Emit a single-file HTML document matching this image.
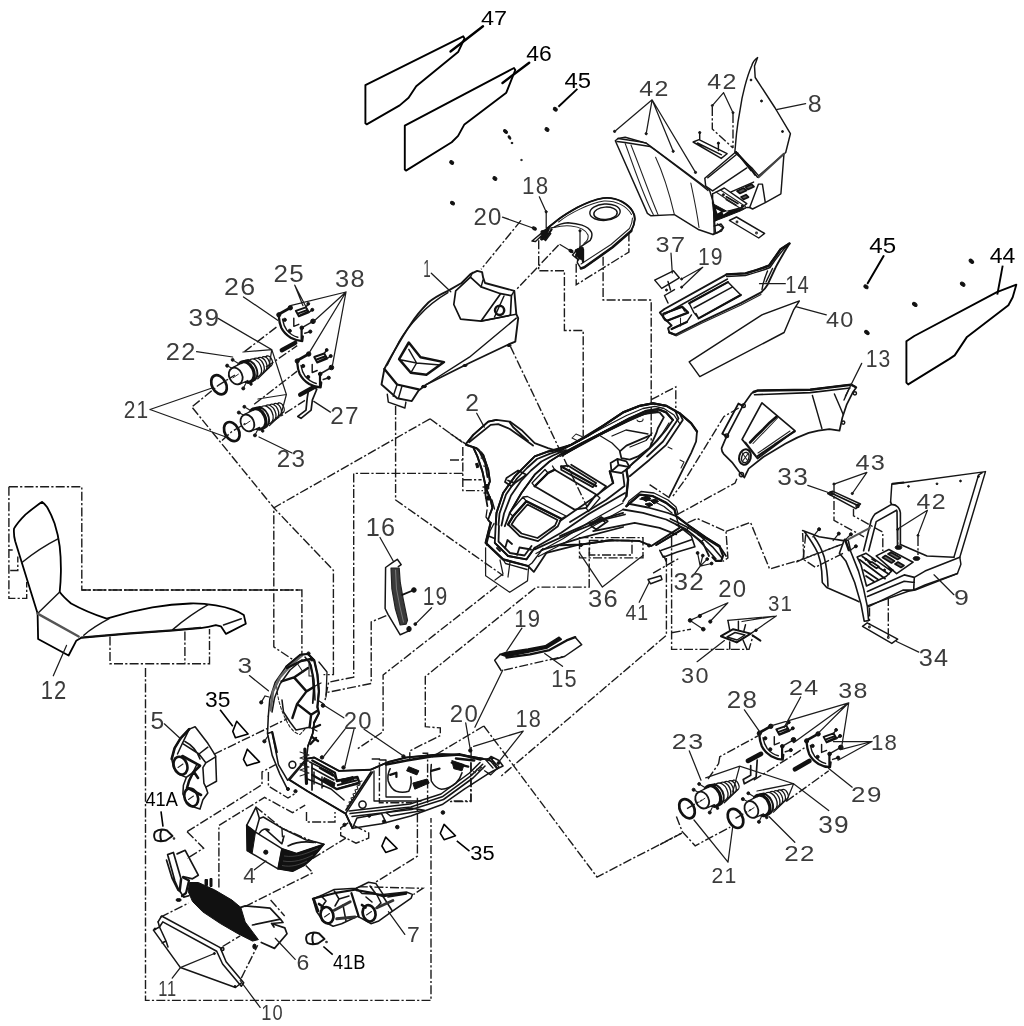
<!DOCTYPE html>
<html><head><meta charset="utf-8"><title>Body parts exploded view</title>
<style>
html,body{margin:0;padding:0;background:#fff;}
body{width:1024px;height:1026px;overflow:hidden;font-family:"Liberation Sans",sans-serif;}
svg{display:block;will-change:transform;transform:translateZ(0)}
.o{fill:none;stroke:#151515;stroke-width:1.45;stroke-linejoin:round;stroke-linecap:round}
.w{fill:#fff;stroke:#151515;stroke-width:1.45;stroke-linejoin:round;stroke-linecap:round}
.n{fill:none;stroke:#222;stroke-width:1.05;stroke-linejoin:round;stroke-linecap:round}
.k{fill:none;stroke:#111;stroke-width:2.3;stroke-linejoin:round;stroke-linecap:round}
.k3{fill:none;stroke:#111;stroke-width:3;stroke-linejoin:round;stroke-linecap:round}
.b{fill:#111;stroke:#111;stroke-width:1;stroke-linejoin:round}
.g{fill:#777;stroke:none}
.d{fill:none;stroke:#1c1c1c;stroke-width:1.4;stroke-dasharray:9 2.2 2.2 2.2}
.l{fill:none;stroke:#1c1c1c;stroke-width:1.25;stroke-linecap:round}
.lk{fill:none;stroke:#000;stroke-width:2.4;stroke-linecap:round}
.p{fill:none;stroke:#000;stroke-width:1.9;stroke-linejoin:round}
text{font-family:"Liberation Sans",sans-serif}
.c{font-size:22.5px;fill:#3c3c3c;letter-spacing:1.2px}
.a{font-size:21px;fill:#000}
.a2{font-size:19px;fill:#000}
</style></head><body>
<svg width="1024" height="1026" viewBox="0 0 1024 1026">
<rect width="1024" height="1026" fill="#fff"/>
<!-- 10_dash_seat.svgfrag -->
<path class="d" d="M8.900 486.700 L81.800 486.700 L81.800 590 L300 590 M8.900 486.700 L8.900 598.400 L26.700 598.400 L26.700 582 M8.900 550 L12.700 550 M10.200 570.500 L17.800 570.500 L17.800 556.500"/>
<path class="d" d="M110 636.500 L110 663.700 L209.500 663.700 L209.500 629 M184.900 631.400 L184.900 663.700 M145.500 668 L145.500 1000.400 L431 1000.400 L431 818"/>
<!-- 11_dash_main.svgfrag -->
<g class="d">
<!-- console / hood -->
<path d="M538.700 240.300 L538.700 270.800 L564.400 270.800 L564.400 330.500 L583.200 330.500 L583.200 436"/>
<path d="M603.100 256.700 L603.100 300 L651.200 300 L651.200 445 M651.200 399.700 L675.800 386.800 L675.800 408"/>
<path d="M576.200 263.700 L576.200 284.800 L628.900 252 L628.900 231"/>
<path d="M521 220.400 L481.100 269.300 M558.600 245 L538.700 266 L516.400 289.500"/>
<path d="M510.400 346.400 L559.200 448.700 L587.100 507"/>
<path d="M395.600 406 L395.600 500 L503.300 575.700 M430 418.800 L464.400 443.800"/>
<!-- upper-left lights to front arch -->
<path d="M192.500 407.800 L273.800 507.800 L333.400 570.300 L333.400 674.600 L323.500 674.600 M430 418.800 L273.800 507.800 L273.800 646.900 L292.500 659.400"/>
<path d="M81.800 590 L301.900 590 L301.900 656.300"/>
<path d="M462.800 473.400 L353.700 473.400 L353.700 677.100 L328.600 682.200 L324.800 701.300 M462.800 446.900 L462.800 490.600 L483 490.600 M462.800 479.700 L481.600 479.700 M450 433.500 L465.200 443.600 M450 460 L462.800 460"/>
<path d="M386.300 615.600 L371.200 621.900 L371.200 683.500 L327.300 692.400"/>
<path d="M497 585.800 L383.100 675 L383.100 731.700 L356.500 749.500 M589.200 547.800 L589.200 587.100 L536.300 587.100 L425.300 676.600 L425.300 726.700 L440.300 727.900 L440.300 735.500 L409.800 750.800 L409.800 759.700"/>

<path d="M579.500 537.600 L643 537.600 L643 557.900 L579.500 557.900 Z M589.500 540.500 L632 540.500 L632 555 L589.500 555 Z"/>
<!-- right of body -->
<path d="M738.700 408 L724 416.500 L686.200 478 L672.900 496.200 M649.600 484.600 L669.600 497.900 M676.500 515 L735.100 483 L737.500 477.100"/>
<path d="M726 531.400 L750.500 522.400 L769.600 569 L803.300 559"/>
<path d="M687.500 522.900 L697.100 518.500 L726 531.400 L727.900 558 L722.600 561.500"/>
<path d="M666.400 558 L666.400 635.300 L500.300 776.800 M671.600 537 L671.600 649.400 L749 649.400 L753 636 M671.600 632.700 L691 629.200 M653.100 573.100 L679.800 557.900"/>
<path d="M803.100 559.100 L806 532 M803.100 559.100 L840 545"/>
<!-- part 15 / lower -->
<path d="M504.100 670.100 L565.100 656.200 M483.800 726 L597 877 L682 833 M483.800 726 L430.500 757.800 M471.100 747 L471.100 801 L450.800 801"/>

<!-- around front arch/lower -->

<path d="M371.700 759 L379.400 759 L379.400 802.800 L412.400 802.800 M422.500 753.300 L427.600 753.300 L427.600 802.800 M470.800 762.200 L470.800 801.600 L447.900 801.600"/>
<path d="M417.400 797.800 L417.400 856.200 L375.900 882"/>
<path d="M213.800 754.300 L287.400 718.700 M187.100 831.700 L262 784.700 L262 772 L276 764.400 M187.100 831.700 L203.600 848.200 L187.100 858.400"/>
<path d="M218.900 887.600 L218.900 825.400 L264.600 797.400 L292.500 812.700 L305.200 805.100 M268.400 772 L268.400 786 L288 798 L296 793"/>
<path d="M244.800 906.600 L312.800 872.700 L305.800 865.600 M312.800 858.400 L345.800 838.100 M270.600 900 L284.700 916 M160.500 917.200 L188.600 903.100 M222.600 946.500 L240.200 935.900 M241.300 978.100 L257.700 945.300"/>
<path d="M340.700 827.900 L348.400 822.800 L368.700 833 L368.700 838.100 L356 843.200 L340.700 835.500 Z M306.500 812 L306.500 822 L335 822 L335 812"/>
<path d="M358.800 886.700 L422.800 888.300 L413.400 894.500"/>
</g>
<!-- 20_panels.svgfrag -->
<!-- panel 47 -->
<path class="p" d="M365.4 85.1 L463.2 36.3 L464.5 38.5 L458.1 52.1 L416.2 86.3 L408.6 97.8 L399.7 105.4 L366.7 124.4 L365.4 123.2 Z"/>
<path class="lk" d="M483 26.2 L450.5 51.5"/>
<!-- panel 46 -->
<path class="p" d="M404.8 125.7 L514 68 L515.3 70 L506.3 92.7 L464.4 124.4 L458.1 135.9 L451.7 142.2 L406 170.6 L404.8 169.6 Z"/>
<path class="lk" d="M529.2 62.7 L502.5 83"/>
<!-- 45 leader + screws -->
<path class="p" d="M577.4 88.9 L558.4 106.7"/>
<g class="b"><ellipse cx="555.3" cy="109.2" rx="2.2" ry="1.6" transform="rotate(35 555.3 109.2)"/>
<ellipse cx="547" cy="129.5" rx="2.2" ry="1.6" transform="rotate(35 547 129.5)"/>
<ellipse cx="451.7" cy="162.5" rx="2.2" ry="1.6" transform="rotate(35 451.7 162.5)"/>
<ellipse cx="494.9" cy="178.5" rx="2.2" ry="1.6" transform="rotate(35 494.9 178.5)"/>
<ellipse cx="452.5" cy="203.1" rx="2.2" ry="1.6" transform="rotate(35 452.5 203.1)"/>
<ellipse cx="505.5" cy="131.5" rx="2.4" ry="1.3" transform="rotate(40 505.5 131.5)"/>
<ellipse cx="509.5" cy="137.5" rx="1.8" ry="1" transform="rotate(55 509.5 137.5)"/>
<ellipse cx="512" cy="143" rx="1" ry=".7"/><ellipse cx="521.5" cy="160" rx=".9" ry=".6"/>
</g>
<!-- panel 44 -->
<path class="p" d="M906.4 341.3 L914.3 336 L996.9 292.1 L1016.3 284.7 L1012.7 297.3 L1008.4 305.3 L967 336.9 L954.7 355.4 L949.5 358.9 L908.2 384.4 L906.4 382.6 Z"/>
<path class="lk" style="stroke-width:2" d="M883.6 256 L867.7 283.3"/>
<path class="p" d="M1002.7 265.7 L997.3 294.7"/>
<g class="b"><ellipse cx="866" cy="286.8" rx="2.4" ry="1.6" transform="rotate(35 866 286.8)"/>
<ellipse cx="971.4" cy="261.3" rx="2.6" ry="1.6" transform="rotate(40 971.4 261.3)"/>
<ellipse cx="962.7" cy="284.2" rx="2.6" ry="1.6" transform="rotate(40 962.7 284.2)"/>
<ellipse cx="914.8" cy="304.4" rx="2.6" ry="1.6" transform="rotate(40 914.8 304.4)"/>
<ellipse cx="866.9" cy="332.5" rx="2.6" ry="1.6" transform="rotate(40 866.9 332.5)"/></g>
<!-- part 40 strip -->
<path class="o" d="M689.2 361.8 L761.9 314.9 L799.4 300.9 L793.5 310.2 L784.1 332.5 L699.8 376.6 Z"/>
<!-- 21_part8.svgfrag -->
<!-- part 8 left fender -->
<path class="o" d="M615.3 140.8 L618 138.5 L625.2 137.3 L646.2 143.1 L709.5 190 L713.5 203 L714.2 233.5 L713 234.5 L699 229.8 L674.4 214.6 L651 215.8 L647.4 213.4 Z"/>
<path class="o" d="M646.2 143.1 L640 141.8 L618 138.5 M617 141.5 L625 142.5 L650 146.5 L655 150 L700 184 L708 190.5"/>
<path class="n" d="M625.2 143.5 C635 170 643 195 653.3 214.6 M631 145 C641 170 650 196 658 214.6 M655.6 157.2 C664 175 670 196 674.4 214.6 M690.8 183 C694 198 697 212 699 227.5"/>
<path class="o" d="M713 234.5 L718 232.5 L723.6 227.5 L721 224 L714.2 226"/>
<!-- tall flap -->
<path class="o" d="M757.6 57.6 C754 60 752.5 63 751.7 65.8 C748.5 73 746.5 80 744.7 86.9 C742.5 95 741 103 740 110.3 C738.5 118 737.3 126 736.5 133.7 L734.8 152.5 L751.7 167.7 L758.7 175.9 L785.7 152.5 L790.4 133.7 L775.1 108 L755.2 77.5 L754.5 66 Z"/>
<g class="b"><circle cx="751" cy="80" r=".9"/><circle cx="761.5" cy="101" r="1"/><circle cx="782.5" cy="131.5" r="1"/></g>
<!-- box below flap -->
<path class="o" d="M783.900 154.800 L780.900 193.800 L765.300 202.600 L752.600 209 L749.700 207.500 L758.500 184.100 L762.400 184.100 L765.300 202.600"/>
<path class="k" style="stroke:#444;stroke-width:2.200" d="M758.500 177.200 L783.900 153.800"/>
<!-- middle footwell -->
<path class="o" d="M736 151.800 L704.800 178.200 L705.700 186 L712.600 190.900 L746.800 167.900 M707.800 177.700 L738 153.200 M736 151.800 L747.700 164.500 L757.500 177.200 M731.100 191.900 L753.600 182.100 M712.600 193.800 L724.300 188 L746.800 203.600 L741.900 207.500 L727.200 211.400 L714.500 221.200 M712.600 193.800 L712.600 203.600 M746.800 207.500 L749.700 207.500"/>
<path class="k" style="stroke-width:1.700" d="M736 151.800 L747.700 164.500 L755 175 M741 158 L751 170.500"/>
<path class="b" d="M712.600 203.600 L727.200 211.400 L746.800 207.500 L741.500 210.500 L714.500 221.200 Z"/>
<path d="M716 209 l5 2.500 l-3.500 2 z M722.500 212.500 l6 -1.500 l-5 3.500 z" fill="#fff"/>
<g class="k" style="stroke-width:1.700"><path d="M726.300 196.800 L737.900 203.600 M726.300 199.500 L736 205.300"/><path d="M737 191 l6.500 -3 l3 2.500 l-6.500 3 z M745.500 187 l6 -2.800 l2.500 2.500 l-6 2.800 z M741 197 l5 -2.300 l2.500 2.500 l-5 2.300 z" style="fill:#555"/></g>
<circle class="b" cx="723.300" cy="194.800" r="1.100"/><circle class="b" cx="742.400" cy="206" r="1.100"/>
<path class="n" d="M716 192 L742 209.500 M720.500 190 L745.500 206.500"/>
<path class="o" d="M714.500 221.200 L715.500 233 L721.500 231 L723.300 228 L717.500 224"/>
<!-- plate lower right -->
<path class="o" d="M729.4 220.5 L736.5 217 L764.6 233.4 L758.7 238 Z"/>
<circle class="n" cx="737" cy="222" r=".9"/><circle class="n" cx="756.5" cy="233" r=".9"/>
<!-- bracket top -->
<path class="o" d="M693.1 142 L699 139.6 L727.1 153.7 L721.2 158.4 Z M697.5 143 L721.5 154.8 M699.7 139.6 L699.7 132.6 M718.4 150.5 L718.4 143.2"/>
<g class="b"><circle cx="699.7" cy="132.6" r="1.1"/><circle cx="718.4" cy="143.2" r="1.1"/>
<circle cx="614.6" cy="131.4" r="1.1"/><circle cx="646.2" cy="133.7" r="1.1"/><circle cx="673.2" cy="151.3" r="1.1"/><circle cx="695.5" cy="172.4" r="1.1"/>
<circle cx="712.3" cy="105.6" r="1"/><circle cx="733" cy="112.7" r="1"/></g>
<!-- leaders -->
<path class="l" d="M652.1 99.8 L614.6 131.4 M652.1 99.8 L646.2 133.7 M652.1 99.8 L673.2 151.3 M652.1 99.8 L695.5 172.4 M723.6 92.7 L712.3 105.6 M723.6 92.7 L733 112.7 M805.6 103.7 L776.3 109.6"/>
<path class="d" d="M712.3 107 L712.3 129 L733 148 M733 114 L733 148"/>
<!-- 22_console.svgfrag -->
<!-- console (cup holder) -->
<path class="o" d="M546.9 228.6 L558.6 219.2 C565 214.5 571 211 577.3 207.5 C586 203 595 199.5 603.1 198.1 C610 197.3 617 199 621.9 201.6 C627 204.5 630.5 207.5 632.4 211 C634.3 214 635 216.5 634.8 219.2 C634.5 223.5 633 227.5 631.2 230.9 L612.5 247.3 L584.4 267.3 L580.9 268.4 L577.3 262.6 L579.7 247.3 L590.2 240.3 C592 237.5 592.3 234.5 591.4 232.1 C589.5 228.5 586 226.5 582 225.1 C577 223.5 572 223 568 222.7 C562.5 223 558 224.5 553.9 227.4 Z"/>
<path class="n" d="M558.6 222 C570 213 590 203 604 201 C616 200.5 627 206 631.5 214.5 M581 264 L611 244.5 L629.5 228.5 C631.5 224.5 632.5 221 632.4 218 M553.9 227.4 C560 226 566 225.5 571 226 C580 227 586 230 588 235 C588.6 238 587.5 241 584 243.5"/>
<ellipse class="o" cx="605" cy="212.2" rx="15.2" ry="8.2" transform="rotate(-4 605 212.2)"/>
<ellipse class="o" cx="605.5" cy="213.3" rx="11.7" ry="6.2" transform="rotate(-4 605.5 213.3)"/>
<!-- brackets under console -->
<path class="k" d="M548.5 229 L543.5 236 M551.5 229.5 L546 238 M580 248 L576 257 M583 249.5 L583 262"/>
<path class="o" d="M546.9 228.6 L532 241 L535.5 241.5 L541 236.2 L545.5 240.5 L550.7 233.5 M572.5 255 L577.5 249 L583 252 L578.5 260 Z"/>
<circle class="n" cx="541.8" cy="238.5" r="1.5"/><circle class="n" cx="577" cy="255" r="1.5"/>
<path class="l" d="M546.2 212 L546.2 228 M580 231 L580 247"/>
<g class="b"><circle cx="546.2" cy="211.8" r="1.1"/><circle cx="580" cy="230.8" r="1.1"/><ellipse cx="534.3" cy="228.5" rx="2.2" ry="1.4" transform="rotate(25 534.3 228.5)"/><ellipse cx="571" cy="251" rx="2.2" ry="1.4" transform="rotate(25 571 251)"/></g>
<path class="l" d="M539.3 196.8 L546.2 212 M502.5 217.1 L534.3 228.5 M560 244.5 L570 250.5"/>

<path class="k" style="stroke-width:2.6" d="M580.9 268.4 L584.4 267.3 L612.5 247.3 L631.2 230.9"/>
<path class="k" style="stroke-width:1.9" d="M546.9 228.6 L558.6 219.2 C565 214.5 571 211 577.3 207.5 C586 203 595 199.500 603.100 198.100 C610 197.300 617 199 621.900 201.600 C627 204.500 630.500 207.500 632.400 211 C634.300 214 635 216.500 634.800 219.200 C634.500 223.500 633 227.500 631.200 230.900"/>
<path class="b" d="M541 231 L549 229 L546 238 L541.500 240 Z M575 250 L583 247 L583.500 261 L578.500 258 Z"/>
<!-- 23_part14.svgfrag -->
<!-- part 37 -->
<path class="o" d="M654.7 280.1 L673.4 270.8 L679.3 277.8 L661.7 288.4 Z M664.5 295.5 L674.5 289.6 M664.5 295.5 L668 303 M668 281.5 L670.5 290"/>
<g class="b"><circle cx="681.6" cy="279" r="1"/><circle cx="681.6" cy="287.2" r="1"/><circle cx="666.5" cy="290" r="1"/></g>
<path class="l" d="M671 253.2 L672.3 273 M702.7 267.3 L681.6 279 M702.7 267.3 L681.6 287.2"/>
<!-- part 14 -->
<path class="o" style="stroke-width:1.9" d="M659.9 312.6 L664.5 309 L726.7 274.4 L745.5 273.4 C755 270.5 762 268.5 768.9 265.7 C773 260 777 254.5 780.6 249.3 L789.5 243.4 C785 251 780 259 775.9 266.9 L767.7 284.4 C765.5 288 763.5 290.5 760.7 292.7 L740.8 303.2 L700.9 321.9 L675.2 334.8 L669.3 332.5 L668.1 328.3 L671.6 325.5 L663.4 317.3 Z"/>
<path class="o" d="M726.7 276.5 L745.5 275.5 C756 272.5 763 270.5 770 267.5 C775 260 781 252 787.5 245 M665 314 L727.5 279 M767.5 271 C765 277 763 283 762 289.5 M772.5 268.5 L766 282"/>
<path class="o" d="M689.2 303.2 L727.9 282.1 L740.8 295 L698.6 318.4 L693.9 312.6 Z M693.9 308 L732.6 286.8 M698.6 318.4 L696 313.5"/>
<path class="o" d="M663.4 313.8 L682.2 306.7 L688.1 312.6 L667 320.8 M671.6 329 L686.9 321.9 L691.5 314.9 M682.2 306.7 L684.5 311"/>
<path class="n" d="M676 336 L701 323.5 L741 305 L761 294.5 M680.5 318 L680.5 326"/>
<path class="l" d="M785.3 283.7 L759.5 283.7 M826.3 314.9 L795.8 306.7"/>

<path class="k" style="stroke-width:2.4" d="M726.700 274.400 L745.500 273.400 C755 270.500 762 268.500 768.900 265.700 C773 260 777 254.500 780.600 249.300 L789.500 243.400"/>
<path class="k" style="stroke-width:2.2" d="M663.400 313.800 L682.200 306.700 L688.100 312.600 L667 320.800 C664 320 662.500 316.500 663.400 313.800 Z M671.600 329 L686.900 321.900 M669.300 332.500 L675.200 334.800 M689.200 303.200 L727.900 282.100 M698.600 318.400 L740.800 295"/>
<!-- 24_part13.svgfrag -->
<!-- part 13 side panel -->
<path class="o" style="stroke-width:1.700" d="M751.600 393.300 L757.500 390.400 L810.200 389.600 L851.200 384.500 L856.300 387.500 L852.700 392.600 L846.800 404.300 L842.400 417.500 L839.500 430.700 L829.300 429.200 C822 429.800 815 431 808.700 432.900 C800 436 792 440 785.300 443.800 L763.300 457 L748.700 468.700 L744.300 477.500 L739.200 471.700 L732.600 462.900 L723.800 454.100 C722 452 721.500 450 721.600 448.200 L725.300 439.400 L742.800 405.800 Z"/>
<path class="k" style="stroke-width:2.400" d="M753.500 392 L757.500 390.600 L810.200 389.800 L851.200 384.800 L855.500 387"/>
<path class="k" style="stroke-width:1.600" d="M754.500 394.800 L810.200 392.600 L850 388"/>
<path class="o" d="M812.400 395.500 L817.500 413.100 L821.900 428.500 M834.400 394 L839.500 405.800 L843.200 414.500 M849 389 L844 400"/>
<path class="o" style="stroke-width:1.700" d="M761.900 402.800 L794.800 430.700 L757.500 458.500 L742.100 439.400 Z M745.500 442.500 L756 456"/>
<path class="k" style="stroke-width:2.700" d="M776.500 416.700 C771 421 767 425 763.300 429.200 C758 434 754 438 750.200 442.400"/>
<path class="k" style="stroke-width:2" d="M794.800 431.400 C787 436 780 441 773.600 445.300 C768 449 762 453 757.500 456.300"/>
<path class="n" d="M778 417.500 L753 443.500 M790 431 L758 453"/>
<ellipse class="k" cx="745" cy="457" rx="5.800" ry="7.800" transform="rotate(15 745 457)" style="stroke-width:2"/><ellipse class="o" cx="745.300" cy="457.500" rx="3.600" ry="5.200" transform="rotate(15 745.300 457.500)"/>
<path class="n" d="M742 452.500 L748.500 462 M748.500 453 L742 462"/>
<path class="k" style="stroke-width:1.900" d="M742.800 405.800 L738.400 403.600 L722.300 433.600 L726.700 436.500"/>
<circle class="o" cx="743.500" cy="405.800" r="1.800"/><circle class="o" cx="726.700" cy="435.800" r="1.800"/><circle class="o" cx="854.900" cy="393.300" r="1.600"/><circle class="o" cx="843.200" cy="422.600" r="1.600"/><circle class="o" cx="741.400" cy="474.600" r="2.100"/>
<path class="l" d="M861.700 363.400 L845.300 396.200"/>
<!-- part 33 + 43 -->
<path class="o" d="M827.7 493.5 L832.4 491.2 L860.5 504 L855.8 508.700 Z"/>
<path class="k" d="M830 492.500 L858 505.500" style="stroke-width:1.8"/>
<circle class="o" cx="831" cy="493.400" r="1.5"/><circle class="o" cx="857.500" cy="506" r="1.5"/>
<g class="b"><circle cx="834" cy="484.100" r="1.1"/><circle cx="852.300" cy="493.500" r="1.1"/></g>
<path class="l" d="M807.8 485.3 L831.2 493.5 M866.9 472.4 L834 484.1 M866.9 472.4 L852.3 493.5"/>
<path class="d" d="M834 485.300 L834 520.400 L864 536.800 M853.500 508.700 L853.500 515.800 L882.800 532.200 L882.800 551"/>
<!-- 25_part9.svgfrag -->
<!-- part 9 right fender -->
<path class="o" d="M891.8 484.100 L903.500 482.700 L985.500 471.600 L959.800 557.200 L960.900 564.200 L957.400 573.600 L915.200 590 L908.200 591.200 L866 606.400 M891.800 484.100 L890.600 502.100 M978.500 475.200 L953.900 557.200 M983 472.200 L978.500 475.200"/>
<path class="k" d="M892.500 483.800 L903.500 482.500" style="stroke-width:2"/>
<g class="b"><circle cx="908.5" cy="486.300" r=".9"/><circle cx="937" cy="483.800" r=".9"/><circle cx="960.500" cy="481" r=".9"/><circle cx="978.5" cy="476.500" r=".9"/></g>
<!-- box -->
<path class="o" style="stroke-width:1.600" d="M863.600 550.800 L871.200 520.300 C872.500 517.500 873.700 515.500 875 514 L891.500 504.400 C894.500 504.600 896.500 505.500 897.800 507 C899.300 508.700 900.200 510.500 900.400 512.700 L900.400 544.400 M868.700 550.800 L876.200 521.600 L896.600 510.200 M890.600 502.100 L891.500 504.400 M897 511 L897.500 546"/>
<!-- floor/step -->
<path class="o" style="stroke-width:1.600" d="M857.200 557.100 L866.100 553.300 L891.500 571.100 L886.400 576.200 L876.200 581.300 L866.500 586 M876.200 555.900 L888.900 549.500 L913.100 562.200 L896.600 573.600 Z M867.400 591.400 L904.200 574.900 L914.300 577.400 L925 571.100 L959.800 557.200 M867.400 596.500 L904.200 581.200 L914.300 582.500 M868.600 606.600 L902.900 590.100 L913.700 590.100 L925 585.100 L957.400 573.600 M914.300 577.400 L913.700 590.100 M900.400 544.400 L927 556 L953.900 557.200 M857.200 557.100 L861 565 L866.500 586"/>
<g class="k" style="stroke-width:1.700"><path d="M859.700 559.700 L885.100 578.700 M862.300 556.500 L888.900 574.300 M864 570 L878 579.500 M866 576 L874 581.500"/>
<path d="M868 561.500 l8 5.500 M872 559 l3.500 2.400 M882.500 557.500 l9 5.500 l3 -2 l-9 -5.500 z M888 554 l9.500 5.500 l3 -1.800 l-9.500 -5.500 z M895 564 l6 3.500 l3 -2 l-6 -3.500 z M889 568 l4 2.300" style="fill:#666"/>
<path d="M869.500 563.500 l7 4.800 l2.500 -1.500 l-7 -4.800 z" style="fill:#fff"/></g>
<g class="b"><circle cx="866" cy="559.500" r="1"/><circle cx="884.500" cy="570" r="1"/><ellipse cx="898.500" cy="547.500" rx="3.300" ry="1.900"/><ellipse cx="916.500" cy="558.500" rx="3.300" ry="1.900"/></g>
<!-- left curved part + strap -->
<path class="o" style="stroke-width:1.600" d="M802.600 530.500 L819.100 536.800 L843.200 540.600 M804.500 531.700 C810 539 814.500 546 817.900 553.300 C820 559 821.200 565 821.700 571.100 L822.300 582.500 L826.700 587.600 L855.900 600.300 L859 601.700 M814 536.800 C818.500 543 822 550 824.200 557.100 C826.500 566 827.700 576 828 586.300"/>
<path class="w" style="stroke-width:1.600" d="M839.400 553.300 L844.500 539.400 L848.300 540.600 L850.900 552 L858.500 571.100 L863.600 588.900 L867.400 606.600 L868.600 620.600 L864.200 621.200 L861 604.100 L854.700 582.500 L845.800 560.900 Z"/>
<path class="k" style="stroke-width:2.400" d="M845.200 539.800 L848.800 550"/>
<path class="k" style="stroke:#555;stroke-width:2" d="M848.300 539.400 L869.900 527.900"/>
<path class="d" d="M802.600 533 L803.900 559.700 L815.300 567.300 L843.200 553.300 M796.300 562.200 L803.900 558.400 L842 544.400"/>
<path class="l" d="M819.100 529.200 L812.800 536.800 M838.800 533.600 L833.100 540.600 M850.900 534.300 L845.800 539.400 M855.900 546.300 L849.600 550.800"/>
<g class="b"><circle cx="819.100" cy="529.200" r="1.500"/><circle cx="838.800" cy="533.600" r="1.500"/><circle cx="850.900" cy="534.300" r="1.500"/><circle cx="855.900" cy="546.300" r="1.500"/></g>
<!-- part 34 plate -->
<path class="o" d="M862.500 626.300 L867.200 622.800 L897.700 639.200 L891.800 643.400 Z"/>
<circle class="n" cx="869.400" cy="627" r=".9"/><circle class="n" cx="888.300" cy="637.500" r=".9"/>
<path class="d" d="M869.500 607.600 L869.500 625 M888.300 597 L888.300 637"/>
<path class="l" d="M918.800 652.100 L896.500 641.500 M953.900 594.700 L934 574.800 M927.400 510.300 L897.700 529 M927.400 510.300 L918 534.900"/>
<g class="b"><circle cx="897.700" cy="529.500" r="1"/><circle cx="918" cy="535.500" r="1"/></g>
<path class="d" d="M897.700 531 L897.700 545 M918 537 L918 555"/>
<!-- 26_hood.svgfrag -->
<!-- part 1 hood -->
<path class="o" style="stroke-width:1.9" d="M384.400 368.900 C388 362 391.500 356 395.200 349.400 C400 341 405 332.500 410.800 324 C416 316 422 309 428.400 302.500 C434 297.500 441 294 447.900 290.800 L461.600 283 L470.400 274.200 L477.200 270.900 L482.100 272.200 C482.500 276 483.500 279.500 485 283 L514.300 290.800 L516.300 314.200 L518.200 318.100 L515.300 341.600 L508.400 344.500 L469.400 363 L426.400 384.500 L418.600 390.400 L411.800 401.100 L397.100 398.200 L381.500 384.500 Z"/>
<path class="o" d="M387.300 365 C391 357 395 350 399.100 341.600 C404 333 410 325 418.600 316.200 C427 307 437 299 447.900 292.700 M426.400 384.500 L469.400 357.200 L516.300 318.100 M481.100 321.100 L516.300 314.200"/>
<!-- window -->
<path class="k" d="M453.800 304.500 L455.700 290.800 L470.400 277.100 L481.100 286.900 L500.600 293.700 L511.400 295.700 L510.400 315.200 L481.100 321.100 L460.600 319.100 Z M500.600 293.700 L481.100 321.100" style="stroke-width:1.7"/>
<path class="o" d="M470.400 277.100 L472.500 272.500 M481.100 286.900 L483 280 M504 296 L494.500 317 M511.400 295.700 L514.300 290.800"/>
<circle class="k" cx="499.600" cy="310.300" r="4.600" style="stroke-width:2.5"/>
<!-- scoop -->
<path class="k" d="M399.100 359.100 L408.800 342.500 L420.500 357.200 L444 362.100 L426.400 374.800 L410.800 372.800 Z" style="stroke-width:2.5"/>
<path class="o" d="M408.800 349.400 L416.600 363 L440 365 M416.600 363 L410.800 372.800 M401.500 360 L416.600 363"/>
<!-- front edge -->
<path class="k" d="M384.400 368.900 L397.100 384.500 L418.600 389.400" style="stroke-width:2.3"/>
<path class="o" d="M397.100 384.500 L393.200 396.200 M402 386 L398.500 398 M387.300 394.300 L388.300 402.100 L404.900 408 L405.900 402.100"/>
<path class="l" d="M431.300 273.200 L450.800 291.800"/>
<ellipse class="b" cx="509" cy="345.500" rx="2" ry="1"/><ellipse class="b" cx="465" cy="365.500" rx="2" ry="1"/><ellipse class="b" cx="424" cy="386.500" rx="2.500" ry="1.200"/>
<!-- 27_seat.svgfrag -->
<!-- part 12 seat -->
<path class="p" style="stroke-width:1.800" d="M41.900 501.900 C44 503 45.500 505 47 507 C50 512 52.500 517.500 54.600 523.500 C57 531 58.700 538.500 59.700 546.300 C60.700 555 61 563 60.900 571.700 C60.800 579 60.300 586 59.700 592 C63 596.500 67 600 71.100 603.500 C82 609.500 94 614.500 106.700 618.700 C121 614 136.500 610 152.400 607.300 C165 605.300 178 604 190.500 603.500 C199 603.300 207.500 604 215.800 605.300 C222 606.300 228 607.800 233.600 609.800 C237.500 611.200 241 613 243.800 614.900 L245.800 623.800 L226 633.900 L220.900 626.300 L215.800 625.100 C211 626.500 206 627.500 200.600 628.100 L172.700 630.600 L127 633.900 L81.300 637.800 L76.200 640.800 L68.600 655.500 L38.100 639 L37.600 613.600 L15.200 541.300 C14 537 13.700 532.500 14 528.600 C17 523.500 21 519 25.400 514.600 C31 510 36.500 505.500 41.900 501.900 Z"/>
<path class="o" d="M21.600 562.800 C33 553.500 46 545 58.400 538.700 M37.600 613.600 L59.700 592 M83.800 635.200 C91 629 100 623.500 109.200 618.700 M172.700 629.600 C184 620 196 611.500 208.200 604.700 M223.500 625 L241.300 618.700"/>
<path class="k" style="stroke:#555;stroke-width:2.400" d="M37.600 613.600 L78.700 636.500"/>
<path class="k" style="stroke-width:1.800" d="M81.300 637.300 L127 633.400 L172.700 630.100 L200.600 627.600"/>
<path class="l" d="M53.300 675.800 L66.500 645.400"/>
<!-- 28_lights.svgfrag -->
<defs>
<g id="hl"><g transform="scale(.9)">
  <path class="o" d="M17 -16.500 L35 -22 M24.500 3 L39.500 -11.500"/>
  <ellipse class="w" cx="37" cy="-16.800" rx="3.400" ry="5.800" transform="rotate(-25 37 -16.800)"/>
  <ellipse class="w" cx="33" cy="-15" rx="4.300" ry="7" transform="rotate(-25 33 -15)"/>
  <ellipse class="w" cx="29" cy="-13" rx="5.200" ry="8.200" transform="rotate(-25 29 -13)"/>
  <ellipse class="w" cx="25" cy="-11" rx="6.100" ry="9.400" transform="rotate(-25 25 -11)"/>
  <ellipse class="w" cx="21" cy="-9" rx="7" ry="10.500" transform="rotate(-25 21 -9)"/>
  <ellipse class="w" cx="15" cy="-6" rx="8.300" ry="12" transform="rotate(-25 15 -6)" style="stroke-width:2.200"/>
  <ellipse class="w" cx="11.500" cy="-4.500" rx="8.300" ry="12" transform="rotate(-25 11.500 -4.500)" style="stroke:#111;stroke-width:3.600"/>
  <path class="w" d="M-4.500 -8.500 L6 -14 L16 4 L5 9 Z" style="stroke:none"/>
  <path class="o" d="M-3.500 -9.300 L7 -14.500 M4 9.300 L13.500 5"/>
  <ellipse class="w" cx="0" cy="0" rx="7.200" ry="9.700" transform="rotate(-25)" style="stroke-width:2"/>
  <path class="n" d="M-3 2 L3 -2"/>
  <g class="b"><circle cx="-9.500" cy="-11.500" r="1.700"/><circle cx="8.400" cy="13.800" r="1.700"/><circle cx="-3.400" cy="-17.900" r="1.600"/><circle cx="17" cy="9" r="1.400"/><circle cx="14" cy="-17" r="1.300"/></g>
  <path class="l" d="M-9.500 -11.500 L-4 -8.500 M8.400 13.800 L11 8.500 M-3.400 -17.900 L3 -14"/>
</g></g>
<g id="oring"><ellipse class="k" cx="0" cy="0" rx="7" ry="10.200" transform="rotate(-28)" style="stroke-width:2.700"/></g>
<g id="brk">
  <path class="k" d="M0 0 C0.300 4 1 8 2.500 11.500 C4.500 15.500 8 19 12 21.500 C16 23.700 20 24.800 23.400 24.800 L24 20" style="stroke-width:2.300"/>
  <path class="o" d="M3.800 3 C4.500 7.500 6 11 8 13.800 C11 17.300 14.500 19.800 19 21 M15 2 L15 10 L20 8"/>
  <path class="k" d="M0 -2 L11.500 -8.500" style="stroke-width:2.700"/>
  <path class="k" d="M17 -5.500 L27 -9 L30 -4 L20 0 Z M19.500 -3 L27.500 -6 M21 -1 L29 -4.500" style="stroke-width:1.900"/>
  <path class="k" d="M22.800 11.500 L22.800 24" style="stroke-width:2.200"/>
  <path class="l" d="M22.800 11.500 L34.200 5 M26 17 L31.500 15.300 M27 -9 L29.500 -12.500 M30 -4 L33.500 -6.500" style="stroke-width:1.500"/>
  <g class="b"><circle cx="0" cy="-1.500" r="2.100"/><circle cx="11.500" cy="-8.500" r="2.200"/><circle cx="34.200" cy="5" r="2.300"/><circle cx="31.500" cy="15.300" r="1.600"/><circle cx="6" cy="3.500" r="1.600"/><circle cx="11" cy="14.500" r="1.600"/><circle cx="29.500" cy="-12.500" r="1.400"/><circle cx="33.500" cy="-6.500" r="1.500"/><circle cx="23" cy="11.500" r="1.800"/></g>
</g>
</defs>
<!-- upper-left headlights -->
<use href="#hl" x="235.700" y="376"/><use href="#hl" x="247.400" y="422.900"/>
<use href="#oring" x="219" y="384.800"/><use href="#oring" x="231.800" y="431.600"/>
<use href="#brk" x="278.800" y="316.300"/><use href="#brk" x="297.200" y="362.500"/>
<path class="k3" style="stroke-width:4.400" d="M281.800 350.300 L295.200 342.900 M300.200 394.600 L313.600 387.300"/>
<path class="o" style="stroke-width:1.700" d="M313.600 387.300 L316.800 389.200 L312.400 399.900 L311.100 410.100 L301 418.300 L297.800 416.400 L306 410.100 L307.300 397.400 L308.500 390.500"/>
<path class="d" d="M244.500 351.600 L277.700 326.200 M266 367.200 L297.200 345.700 M254.200 404.300 L297.200 371.100 M271.800 421.900 L305 400.400 M192.700 406.300 L219 384.800 L235 375 M222 440.400 L231.800 431.600 L247 422.500"/>
<!-- 39 leader (solid polyline) -->
<path class="l" d="M218.100 318.400 L271.800 349.600 L286.400 394.500 L280.600 416 M271.800 349.600 L268.900 367.200 M271.800 349.600 L243 352 M286.400 394.500 L258 399"/>
<path class="l" d="M294.800 285.200 L303 305.700 M294.800 285.200 L307.900 310.500 M346 292 L290.400 305.700 M346 292 L313.800 321.300 M346 292 L309.900 351.600 M346 292 L332.300 366.200 M243.500 296.900 L277.700 320.300 M196.600 351.600 L232.700 357 M330.400 412.100 L313.800 401.400 M150 409.500 L212 388 M150 409.500 L226 437 M259 437 L292 453"/>
<!-- lower-right headlights -->
<use href="#hl" x="702.200" y="800.100"/><use href="#hl" x="751.400" y="809.400"/>
<use href="#oring" x="687" y="808.700"/><use href="#oring" x="735.500" y="818.400"/>
<use href="#brk" x="759.300" y="734.800"/><use href="#brk" x="806.600" y="742.400"/>
<path class="k3" style="stroke-width:4.600" d="M748 760.900 L761 753.900 M795 769.300 L809.300 761"/>
<path class="o" style="stroke-width:1.700" d="M750.700 765.500 L750.700 775.200 L743.200 779.500 L744.300 783.800 L756.100 777.300 L757.200 760.100"/>
<path class="d" d="M718.600 763.700 L719.800 756.700 L760.800 734.400 M753.700 780.200 L805.300 747.300 M786.500 801.200 L828.700 770.800 M676.400 816.500 L682.300 831.700 L695.200 845.800 L730.300 827 M660 844.600 L682.300 832.900 M687 808.700 L702 800 M735.500 818.400 L751 809.500 M708 779 L718.600 763.700"/>
<path class="l" d="M828.700 810.600 L793.600 783.700 L739.700 766.100 L705.700 777.800 M739.700 766.100 L732.700 791.900 M793.600 783.700 L786.500 801.200 M793.600 783.700 L757 791"/>
<path class="l" d="M744.400 709.800 L760.800 733.300 M800.600 697 L784.200 727.400 M848.700 702.800 L770.100 726.200 M848.700 702.800 L793.600 742.700 M848.700 702.800 L817 734.400 M848.700 702.800 L841.600 747.300 M872 741.500 L833.400 741.500 M872 741.500 L840.500 749.700 M872 741.500 L838.100 760.200 M852.200 787.200 L828.700 768.400 M689.300 750.900 L701 780.200 M794.800 842.300 L769 816.500 M728 862.200 L694 820 M728 862.200 L732.700 827"/>
<!-- 30_body.svgfrag -->
<!-- part 2 main body -->
<g class="o" style="stroke-width:1.800">
<!-- left wing -->
<path d="M465.800 444 L473.300 434.900 L488.200 421.600 L496.500 419.900 L509.800 421.600 L521.400 429.900 L534.700 443.200 L548 448.100 L556.300 450.600"/>
<path d="M469.100 442.300 L490.700 424.900 L498.200 424.100 L509.800 429 L524 439 L533 445.600 M509.800 422.500 L513 427 L528 441"/>
<path d="M465.800 444.800 L476.600 448.100 L483.200 454.800 L488.200 469.700 L489.900 481.300 L486.500 489.600 L490.700 499.600 L492.400 507.900 L489.900 514.500"/>
<path d="M473.300 447.300 L477.400 456.400 L482.400 471.400 L484.900 483 L485.500 495 L487.400 506.200 M478.500 449.500 L485 463 L487.500 477"/>
<!-- hood arc band -->
<path d="M495.700 524.500 L496.500 512.900 L503.100 493 L514.800 476.400 L524.700 466.400 L534.700 456.400 L548 451.500 L556.300 450.600 L571.200 444.800 L587.800 435.700 L604.400 424.900 L623.100 412.400 L639.700 405.800 L653 403.300 L666.200 405.800 L679.500 413.200 L691.100 423.200 L697 431.500 L696.100 441.500 L691.100 453.100 L682.800 469.700 L674.500 486.300 L669.600 496.200"/>
<path d="M498.500 525 L499.500 513.500 L506 494.500 L517 478.500 L527 468 L537 459 L549.500 453.800 L563.300 449.500"/>
<path d="M501.500 525.500 L504 513.500 L511 495.500 L521 481 L531 470.500 L541.500 461.500 L553 455.500 L566 450"/>
<path d="M504.800 526.200 L509.800 512.900 L521.400 493 L534.700 474.700 L549.600 461.400 L562.900 453.100 L581.200 443.200 L601.100 433.200 L629.700 418.200 L646.300 410.800 L657.900 409.100 L666.200 412.400 L672.900 419.900 L666.200 429.800 L657.900 439.800 L646.300 451.400 L633 463 L626.400 469.700"/>
<path d="M563.300 454.700 L583.200 443.100 L606.500 430.700 L629.700 420 L646.300 412.500 L657.900 411 "/>
<!-- opening outline -->
<path d="M593.200 438.100 L614.800 427.400 L634.700 417.400 L649.600 412.400 L659.600 412.400 L663.800 417.400 L657.900 428.200 L656.300 433.200 L649.600 448.100 L638 456.400 L629.700 459.700 L621.400 458.100 L619.800 451.400 L626.400 445.600 L649.600 435.700"/>
<!-- right shell -->
<path d="M679.500 413.200 L682.800 419.900 L666.200 444.800 L649.600 459.700 L629.700 476.300 M675 410.500 L678.500 418.500 L663 441.500 L647 456.500"/>
<!-- latch box -->
<path d="M610.600 463 L617.300 458.900 L626.400 461.400 L629.700 467.200 L621.400 473 L611.500 471.300 Z M617.300 458.900 L618.500 465 L629.700 467.200 M618.500 465 L611.500 471.300"/>
<path d="M626.400 469.700 L628.100 479.600 L626.400 496.200 L623.100 501.200 M609.800 471.300 L613.100 483 L593.200 497.900 L560 521.100 M623 474 L624.500 486 L606 500 L570 522"/>
<!-- front window panel -->
<path d="M508.100 524.500 L513.100 516.200 L526.400 501.300 L561.200 518.700 L557.900 526.200 L538 541.100 L519.700 536.100 Z"/>
<path d="M511.500 524.500 L516 517.500 L527.500 504.500 L557.500 520 L555 525.500 L537.500 538 L521.500 533.500 Z"/>
<!-- mid panel -->
<path d="M534.700 486.300 L548 473 L554.600 469.700 L596.100 494.600 L586.100 507.900 L574.500 509.600 Z"/>
<path d="M561.200 466.400 L567.900 465.600 L596.100 483 L592.800 487.100 L561.200 469.700 Z M571.200 464.700 L606.100 486.300 L597.800 494.600"/>
<path d="M506.500 478 L518.100 470.500 L526.400 474.700 L514.800 483 L511.400 486.300 L505 482 Z M508 480.500 L514.800 483"/>
<!-- nose -->
<path d="M490.700 522.800 L485.700 542.800 L503.100 559.400 L528 566 L533.800 571.900 L546.500 552.800"/>
<path d="M495.700 524.500 L494.800 542.800 L508.100 556 L526.400 559.400 L534.700 547.700 L561.200 532.800 L587.800 514.500 L625 493"/>
<path d="M489.900 514.500 L488.100 519.800 L490.700 522.800 M499 526 L498.500 541.500 L510 553 L524.500 555.500 L531.500 546 M505 548.500 L507.500 540 L512 544 M517 555 L519.500 547.500 L531 549.500 M497 548 L500 551 M488.500 536 L494.800 538.500"/>
<!-- lower fender lines -->
<path d="M534.700 549.400 L571.200 532.800 L604.400 519.500 L625 514.500 M541.300 550.200 L581.200 537.800 L623.100 527 M546.500 552.800 L577 545.200 L612.500 540.100"/>
<path d="M589.500 524.500 L601.100 517 L607.700 521.200 L596.100 529.500 Z M592 524.800 L601 519.200 L604.500 521.500"/>
<!-- right fender -->
<path d="M626.400 506.200 L639.700 494.600 L653 496.200 L666.200 502.900 L674.500 509.500 L676.200 516.200 L689.500 526.100 L706.100 537.700 L719.400 546 L726 556"/>
<path d="M623.100 509.500 L643 512.800 L666.200 519.500 L686.200 529.400 L702.800 542.700 L709 556 M560 536.100 L589.900 522.800 L623.100 512.800 M593.200 531.100 L634.700 522.800 L659.600 527.800 L676.200 534.400 M630 504 L648 507.500 L668 513 L676.200 516.200"/>

<!-- far right arch (toward 32) -->

</g>
<path class="k" d="M560 545.200 L581.600 544.400 L609.800 540.200 L639.700 541.100 L651.300 546 L679.500 527.800" style="stroke-width:2"/>
<path class="k" d="M495.700 524.500 L496.500 512.900 L503.100 493 L514.800 476.400 L534.700 456.400 L548 451.500 L571.200 444.800 L604.400 424.900 L623.100 412.400 L639.700 405.800 L653 403.300 L666.200 405.800" style="stroke-width:1.900"/>
<path class="k" d="M509.800 512.900 L521.400 493 L534.700 474.700 L549.600 461.400 L562.900 453.100 L601.100 433.200 L629.700 418.200" style="stroke-width:1.700"/>
<path class="k" d="M467 445 L476.600 448.400 L483.200 455 L488.200 469.700" style="stroke-width:2"/>
<path class="k" d="M494.800 542.800 L508.100 556 L526.400 559.400 L534.700 547.700" style="stroke-width:1.800"/>
<!-- small blobs on fender top -->
<g class="b"><path d="M641 498 l6 -2 l4 2.500 l-5 3z M650.500 500.500 l5 -1.500 l3 2.500 l-4.500 2.500z M645 504 l5 -1.200 l3 2 l-4 2z"/><circle cx="581" cy="545" r="1.500"/><circle cx="649" cy="545.500" r="1.500"/></g>
<path class="n" d="M572 438 L576 434 L583 437 L579 441.500 Z M637 420 a3 2 0 1 0 6 -1 M668 447 L672 449 M680 460 L684 462 L681 468"/>
<!-- bottom hexagon + leaders -->
<path class="l" d="M485.600 547.800 L485.600 575.700 L509.700 592.200 L527.500 580.800 L528.700 566 M500 560 L503 574 L495 580 M510 562 L508 577"/>
<path class="l" d="M476.700 413.200 L484.300 427.100 M602.400 587.100 L579.500 552.800 M602.400 587.100 L643 555.400 M639.200 602.300 L649.300 582"/>
<path class="o" d="M648 579.500 L660.800 575.700 L662 579.500 L650.600 583.800 Z"/>
<!-- 30b_body_extra.svgfrag -->
<!-- extra density for part 2 -->
<g class="o" style="stroke-width:1.300">
<path d="M558 452.500 L579 441 L603 427.800 L626.500 415.500 L643 408.500 L655 406.300 L664 408.500 L674 415 L680 424"/>
<path d="M560 456.500 L581 445.500 L604 433 L628 421.500 L645 414 L656 412.500"/>
<path d="M669 423 L662 434 L652 446 L640 457.500 L630 466"/>
<path d="M600.500 436 L612 443 L620 451 M648 434 L626 430 L612 436 M630 447 L646 440.500 L652 433"/>
<path d="M487 510 L486 517 L489 521 M492 500 L494.500 509 M484 493 L488 493 M483 487 L487.500 487 M485.500 498 L490 498"/>
<path d="M513.100 516.200 L509.500 513 M526.400 501.300 L523 497 L512 510 M561.200 518.700 L566 516 L527.500 496.500 L523 497"/>
<path d="M548 473 L545 469.500 L532 483 L534.700 486.300 M596.100 494.600 L600 498 L588.500 511.500 L586.100 507.900 M554.600 469.700 L552.500 466"/>
<path d="M536 553.500 L562.500 539 L590 521.500 L623 503 M538.500 556.500 L566 542 L596 524.500 L623.100 509.500"/>
<path d="M486.500 545 L490 531 L494 523.500 M503.100 559.400 L505.500 563.500 L527 569.500 M528 566 L532 563 L543 548.500"/>
<path d="M640 499 L652 500.500 L664 506.500 L672 513 M626.400 506.200 L629 501 L641 491.500 L654 493 L668 500 L676 507 L678 514"/>
<path d="M679.500 527.800 L676.200 516.200 M689.500 526.100 L686 531 M706.100 537.700 L702 541"/>
</g>
<g class="k" style="stroke-width:2.300">
<path d="M556.300 450.600 L571.200 444.800 L587.800 435.700 L604.400 424.900 L623.100 412.400 L639.700 405.800 L653 403.300 L666.200 405.800 L679.500 413.200 L691.100 423.200 L697 431.500"/>
<path d="M563.300 454.700 L583.200 443.100 L606.500 430.700 L629.700 418.200 L646.300 410.800 L657.900 409.100 L666.200 412.400 L672.900 419.900"/>
<path d="M626.400 469.700 L628.100 479.600 L626.400 496.200 M609.800 471.300 L613.100 483"/>
<path d="M561.200 466.400 L596.100 486 M534.700 486.300 L548 473 L554.600 469.700"/>
<path d="M508.100 524.500 L513.100 516.200 L526.400 501.300 L561.200 518.700"/>
<path d="M626.400 506.200 L639.700 494.600 L653 496.200 L666.200 502.900 L674.500 509.500 L676.200 516.200 L689.500 526.100 L706.100 537.700 L719.400 546"/>
<path d="M490.700 522.800 L485.700 542.800 L503.100 559.400 L528 566"/>
</g>
<g class="k" style="stroke-width:1.900">
<path d="M488.200 469.700 L489.900 481.300 L486.500 489.600 L490.700 499.600 L492.400 507.900 L489.900 514.500"/>
<path d="M473.300 447.300 L477.400 456.400 L482.400 471.400 L484.900 483"/>
<path d="M465.800 444 L473.300 434.900 L488.200 421.600 L496.500 419.900" style="stroke-width:1.700"/>
</g>
<g class="b"><rect x="485.300" y="484.500" width="3.500" height="4.500"/><rect x="487" y="496" width="3" height="4"/><rect x="476" y="463.500" width="2.200" height="4" transform="rotate(-15 477 465)"/></g>
<path class="n" d="M478 450 L482 452.500 M481 458 L485.500 459.500 M483.500 466 L487.500 467"/>
<!-- 31_part3.svgfrag -->
<!-- part 3: front arch -->
<g class="o" style="stroke-width:1.550">
<path d="M268.300 716.400 L269.800 699.200 L275.300 682.100 L286.200 666.500 L300.200 654.800 L308 654 L314.200 660.300 L317.400 674.300 L318.900 691.400 L317.400 707 L318.900 713.300 L314.200 722.600 L312.700 733.500 L308 746 L306.500 758.500"/>
<path d="M268.300 716.400 L267.500 733.500 L272.200 755.400 L279.900 774.100 L287.700 789.700 M267.500 733.500 L272.200 732 L278.400 764.700 L287.700 780.300 L306.500 758.500 M282 700 L283.500 712 L290 722 L296 730 L309.600 727.300"/>
<path d="M272 712 L274.500 698 L280 684 L290 670 L302 660 M305 657 L311 665 L314 680 L315 700"/>
<circle cx="292.400" cy="764.700" r="3.400"/>
</g>
<path class="k" style="stroke:#666;stroke-width:2.600" d="M270.600 710.200 L272.900 691.500 L279.900 677.400 L290.900 665 L301.800 655.600"/>
<g class="k" style="stroke-width:2.400">
<path d="M281.500 681.300 L294 677.400 L306.500 691.400 L297.100 703.900 L292.400 718 M294 677.400 L308 668.100 M297.100 703.900 L311.100 714.800 L309.600 727.300 M306.500 691.400 L314.200 686.800 M287 668 L301 661 L311 659 M311.100 714.800 L317 711"/>
<path d="M272.200 732 L276.800 752.300" style="stroke-width:2.200"/>
<path d="M304.900 749.100 L306.500 783.400" style="stroke-width:3.200"/>
<path d="M313 728 L320 725 M312 737 L318 741 M310.500 744 L316 738"/>
</g>
<path class="n" d="M300 752 l9 3 l-9 3 l9 3 l-9 3 l9 3 l-9 3 l9 3 l-9 3 M309 660 L309 676 L313 676 M297 663 L303 672"/>
<g class="b"><circle cx="261.200" cy="702.400" r="1.600"/><circle cx="264.400" cy="741.300" r="1.600"/><circle cx="295.500" cy="791.200" r="1.600"/><circle cx="308.500" cy="653.500" r="1.600"/><circle cx="312" cy="659.500" r="1.500"/><circle cx="323" cy="705.500" r="1.800"/><circle cx="322" cy="757.400" r="1.700"/><circle cx="343.500" cy="767.500" r="1.700"/><circle cx="403.500" cy="756.500" r="1.700"/><circle cx="470.300" cy="750.500" r="1.700"/><circle cx="288" cy="789" r="1.500"/></g>
<path class="l" d="M261.200 702.400 L265 696 L269 697 M264.400 741.300 L268 736"/>
<!-- part 3: lower bumper -->
<g class="o" style="stroke-width:1.550">
<path d="M289.500 779.900 L307.500 758.600 L314.200 757.500 L338.900 770.900 L370.400 769.800 L388.300 762 L406.300 757.500 L442.200 754.100 L462.400 755.200 L482.700 758.600 L493.900 762 L497.300 768.700 L487.200 774.300 L464.700 788.900 L442.200 804.600 L410.800 815.900 L381.600 823.700 L352.400 828.200 L345.600 813.600 L307.500 791.200 Z"/>
<path d="M350.100 813.600 L410.800 806.900 L442.200 796.800 L471.400 775.400 L482.700 764.200 M352 816.500 L411.500 809.500 L443.500 799.500 L473 778 L485 766 M349 811 L410 804 L441 794 L469.500 773 L480 762.500"/>
<path d="M345.600 813.600 L372.600 772 M352.400 828.200 L356.900 818.100 L381.600 813.600 L386.100 822.600 M386 812.500 L410.800 808 L424.300 810.300 L390.500 816 Z"/>
<circle cx="362.500" cy="804.600" r="3.600"/>
<path d="M309.700 762 L332.200 773.200 L336.700 779.900 L356.900 777.700 L359.100 782.200 L336.700 788.900 M312 768 L334 780 M307.500 779 L331 789 L344 800 M314 772 L314 784 M322 777 L322 788"/>
<path d="M390.200 768.700 C388 773 387.500 777 388.200 781 C390 786.500 393 790 396.400 791.300 C400 792.500 405 792.500 408.700 791.300 C411 787 411.500 781 410.800 776.900 M431.300 764.600 C430.500 770 430.500 776 431.300 781 C434 786 438 788.700 441.500 789.200 C447 789 452 786.500 455.900 783.100 C459 780 461 776.500 462 772.800"/>
<path d="M487.200 760 L491 756.500 L499 760.500 L503 766 L497.300 768.700 M491 756.500 L494 764"/>
</g>
<g class="k" style="stroke-width:2.300">
<path d="M307.500 758.600 L314.200 757.500 L338.900 770.900 L370.400 769.800 L388.300 762 L406.300 757.500 L442.200 754.100 L462.400 755.200 L482.700 758.600" style="stroke-width:1.900"/>
<path d="M289.500 779.900 L307.500 791.200 L345.600 813.600 L352.400 828.200" style="stroke-width:1.900"/>
<path d="M386.100 764.600 L406.600 760.500 L431.300 756.400 L460 754.400 L480.500 759.500" style="stroke-width:2.600"/><path d="M312.300 760.500 L334.900 772.800 L336.900 781 L357.400 776.900 L359.500 783.100 L336.900 789.200 L312.300 774.900 M320 768 L333 775.500 M338 785 L356 780.500 M390.200 774.900 L396.400 772.800 L396.400 776.900 M431.300 770.800 L439.500 768.700 M451.800 762.600 L468.200 766.700 M455.900 758.500 L474.300 760.500"/>
<path d="M312 764 L312 790 M346 810 L371 772" style="stroke-width:1.700"/>
</g>
<path class="n" d="M347 806 l3 -1 l-1 -3 l3 -1 l-1 -3 l3 -1 l-1 -3 l3 -1 l-1 -3 l3 -1 l-1 -3 l3 -1 l-1 -3 l3 -1 M473 771 l2 2 l2 -4 l2 2 l2 -4 l2 2"/>
<g class="b"><circle cx="397.300" cy="827.100" r="1.800"/><circle cx="442.900" cy="812.500" r="1.800"/><circle cx="344.500" cy="824.800" r="1.600"/><circle cx="369.200" cy="815.900" r="1.400"/><circle cx="383.800" cy="821.500" r="1.400"/><circle cx="498.500" cy="763" r="1.400"/></g>
<!-- leaders for 3, 20, 18 -->
<path class="l" d="M249.400 675.600 L268.400 690.800 M345 729.200 L322.200 758.400 M354 729.200 L345 766 M364.100 729.200 L403.500 755.900 M323.500 705 L343.800 717.800 M465.700 722.800 L470.300 749.500 M523.200 731.100 L473.600 746.300 M523.200 731.100 L499 761.600 M502.800 670.100 L474.900 727.300"/>

<g class="b"><path d="M408.700 766.700 L418.900 770.800 L416.900 774.900 L406.600 770.800 Z M412.800 783.100 L427.100 779 L429.200 783.100 L414.800 789.200 Z M451.800 760.500 L464.100 764.600 L462 770.800 L453.800 768.700 Z M324 777.500 L335 783 L334 787 L323 781.500 Z M341 779.500 L353 776.500 L354 779.500 L342 783 Z"/></g>
<path class="o" style="stroke-width:1.300" d="M480.500 759.500 L490.700 758.500 L498.900 766.700 L490.700 774.900 L484.600 770.800 M485 759 L493 768 M488.500 758.700 L496 767.500 M374 771 L374 801 L421 801 M380 760 L386 760 L386 797 L410.800 797"/>
<g class="k" style="stroke-width:2.300">
<path d="M308 654 L314.200 660.300 L317.400 674.300 L318.900 691.400 L317.400 707 L318.900 713.300 L314.200 722.600"/>
<path d="M309.500 662 L312.500 675 L313.600 691 L312.800 703" style="stroke-width:1.800"/>
<path d="M300.200 654.800 L308 654 M286.200 666.500 L300.200 654.800" style="stroke-width:1.900"/>
<path d="M314.200 722.600 L312.700 733.500 L308 746" style="stroke-width:1.800"/>
</g>
<path class="n" style="stroke-dasharray:3 2" d="M276.800 686.800 C277.500 700 282 714 290 727 C293 731 296 733.500 300 734.500 L306.500 727.300"/>
<path class="o" style="stroke-width:1.300" d="M314 686.500 L321 683 M317.500 700 L323 703.500 M310 727.500 L317 731 M318.900 662 L327 672 L326 697"/>
<!-- 32_lowerleft.svgfrag -->
<!-- part 5 -->
<g class="o" style="stroke-width:1.550">
<path d="M195.100 726.700 L189.200 729.100 L180.500 738.400 L174.600 748.100 L171.700 758.900 L173.600 767.600 L179.500 774.500 L186.300 777.400 L183.400 785.200 L182.900 793.900 L186.300 801.700 L192.200 806.600 L200 809.100 L202.900 799.800 L207.800 793 L205.800 787.100 L216.500 781.300 L215.600 755.900 L207.800 743.300 Z"/>
<path d="M189.200 729.100 L182.400 743.300 L199 754 L207.800 747.200 M182.400 743.300 L177.500 754 M199 754 L205.800 762.800 L215.600 756.900 M205.800 762.800 L202.900 767.600 L203.900 783.200 L205.800 787.100 M185 741.500 C192 745 197 751 200 759 M186.300 777.400 L193 772.500 L197 764"/>
</g>
<g class="k" style="stroke-width:2.600">
<ellipse cx="180.500" cy="765.700" rx="6.600" ry="9.200" transform="rotate(-20 180.500 765.700)"/><ellipse cx="191.200" cy="797.400" rx="6.600" ry="9.200" transform="rotate(-20 191.200 797.400)"/>
<path d="M189.200 729.100 L180.500 738.400 L174.600 748.100 L171.700 758.900 M182.400 756 L200 765.700 L193.100 772.500 L189 781 L187 788 M188 788 L201 795 M194 772 L198 778"/>
</g>
<path class="n" d="M178 767.500 L183 764 M188.500 799.500 L193.500 796"/>
<!-- 35 triangles -->
<g class="p" style="stroke-width:1.600"><path d="M236.700 721.300 L248.100 734 L235.400 737.800 L232.800 731.400 Z"/><path d="M247.300 749.200 L259.500 761.900 L246.800 765.700 L243.500 759.400 Z"/><path d="M444.100 824.400 L455.500 835.800 L444.100 839.700 L440.300 833.300 Z"/><path d="M385.700 837.100 L397.100 848.500 L385.700 852.400 L381.900 846 Z"/>
<path d="M220.100 709.800 L232.800 726.300 M456.800 840.900 L469.500 851.100 M161 811.400 L163 826.600 M332.700 954.700 L323.400 946.500"/></g>
<!-- 41A / 41B lenses -->
<g class="k" style="stroke-width:1.900"><path d="M155 832 C158 829.500 163 829 167 830.500 L172.500 836 L166 840.500 C162 841.500 158 841.500 155.500 840 C153.800 837.500 153.800 834.500 155 832 Z M161.500 830 C160 833.500 160 837.500 161.500 841"/>
<path d="M307 935 C310 932.500 315 932 319 933.500 L324.500 939 L318 943.500 C314 944.500 310 944.500 307.500 943 C305.800 940.500 305.800 937.500 307 935 Z M313.500 933 C312 936.500 312 940.500 313.500 944"/></g>
<circle class="n" cx="174" cy="838.500" r=".8"/><circle class="n" cx="326.500" cy="942" r=".8"/>
<!-- part 4 -->
<g class="o" style="stroke-width:1.550">
<path d="M256 807.200 L246.700 825.300 L247.200 850.700 L252.100 853.600 L278 868.800 L292.600 871.200 L304.400 865.300 L312.200 858.500 L323.900 844.300 L316 842 L306.300 840 L281.900 828.200 L263.300 817 L259.400 818.500 L256 807.200 Z"/>
<path d="M259.400 818.500 L255.500 832.100 L281.900 848.700 L278 868.800 M246.700 825.300 L255.500 832.100 M281.900 848.700 L296.500 853.600 L323.900 844.300 M259.400 833.100 C262 829 266 828 269 830 M265.300 829.200 L281.900 843.800 M281.900 843.800 L284 836 M288 846 C296 842 304 841 314 842.500"/>
</g>
<path class="b" d="M281.900 848.700 L296.500 853.600 L323.900 844.300 L312.200 858.500 L304.400 865.300 L292.600 871.200 L278 868.800 Z"/>
<path class="b" d="M246.700 825.300 L255.500 832.100 L252.100 853.600 L247.200 850.700 Z"/>
<path d="M284 856 C296 858 308 853 318 848.500 M283 861 C294 863 304 859.500 313 855 M282 865.500 C291 867.500 299 865 307 861" stroke="#555" stroke-width=".7" fill="none"/>
<circle class="b" cx="265.800" cy="852.200" r="2.100"/>
<path class="l" d="M254.400 869.800 L265.900 860.900 M164.300 723.800 L180.800 739"/>
<path class="d" d="M255.500 806.700 L281.900 828.200 L316 842.900 M281.900 828.200 L282.900 843"/>
<!-- part 6 grille -->
<g class="o" style="stroke-width:1.700">
<path d="M167.600 854.600 L173.400 852.500 L180.800 878.100 L179.300 891.300 L174.900 881 Z M177.100 853.900 L185.200 850.300 L198.300 875.200 L192.500 878.800 L183 876.600 M181.500 878.800 L180 891.300 L183.700 897.100 L188.800 895.700 M166.500 860 L172 878 L178 890"/>
<path d="M240.800 907.400 L245.200 905.900 L270.100 908.100 L280.400 919.100 L252.500 925 M271.600 923.500 L284.800 927.900 L287 933.700 L274.500 948.400 L261.300 942.500 M280.400 919.100 L283 922.500 L271.600 923.500 M271.600 923.500 L274 927"/>
</g>
<path class="b" d="M189.500 882.500 L198.300 882.500 L214.500 889.800 L232 900.100 L240.800 907.400 L245.200 922 L258.400 939.600 L252.500 941.100 L237.900 933.700 L220.300 923.500 L202.700 911.800 L192.500 901.500 L188.100 891.300 Z"/>
<path class="k" d="M183 877.500 L189 880.500 L186 893 L182 896" style="stroke-width:2.200"/>
<g class="b"><ellipse cx="178.600" cy="900" rx="2.600" ry="1.400"/><ellipse cx="254.500" cy="946.500" rx="1.700" ry="2.400"/><rect x="205" y="879.500" width="2.500" height="6"/><rect x="210" y="878.500" width="2" height="8"/></g>
<!-- part 10 bar + 11 plate -->
<g class="o" style="stroke-width:1.550">
<path d="M158.100 921.900 L161.600 916 L220.200 947.600 L226.100 961.700 L243.700 982.800 L241.300 986.300 L222.600 964 L216.700 951.200 L162.800 921.900 L159.500 927"/>
<path d="M153.400 930.100 L180.400 967.600 L235.500 987.500 L241.300 983 M153.400 930.100 L159.500 927 L166 941 L162 943 M159.500 927 L158.100 921.900 M166 941 L168 947"/>
<circle cx="222.500" cy="949" r="1.400"/>
</g>
<path class="l" d="M172.200 978.100 L180.400 967.600 L214.400 953.500 M260.100 1007.400 L240.200 980.500 M295.200 959.400 L275.300 938.300"/>
<g class="b"><circle cx="214.400" cy="953.500" r="1"/><circle cx="235" cy="986.500" r="1"/><circle cx="155" cy="929" r="1"/></g>
<!-- part 7 -->
<g class="o" style="stroke-width:1.550">
<path d="M312.900 898.700 L320.900 895.600 L334.300 889.500 L356.300 888.300 L368.500 882.200 L375.800 883.400 L383.100 894.400 L406.300 892 L412.400 894.400 L411.200 898.100 L390.400 912.700 L378.200 921.300 L370.900 923.700 L362.400 918.800 L357.500 916.400 L341.600 923.700 L333.100 926.200 L323.300 921.300 L316.600 911.500 Z"/>
<path d="M320.900 895.600 L326 901 L321 908 M334.300 891 L339 899 L335 906 M339 899 L349 896 M343 905 L346 921 M356.300 888.300 L362 893.500 L383.100 894.400 M366 897 L372 902 M377 895 L381 903 L376 908 M383.100 896.500 L392 910.500 M388 897 L406.300 894 M370 886 L376 894"/>
</g>
<g class="k" style="stroke-width:2.700">
<ellipse cx="327" cy="915.200" rx="6.300" ry="8.300" transform="rotate(-15 327 915.200)"/><ellipse cx="369.100" cy="913.300" rx="6.300" ry="8.300" transform="rotate(-15 369.100 913.300)"/>
<path d="M312.900 898.700 L334.300 893.200 L356.300 889.500 M356.300 890.100 L373.400 893.200 L383.100 896.200 L406.300 893.200" style="stroke-width:2.200"/>
<path d="M351.400 893.200 L358.700 916.400" style="stroke-width:2.200"/>
<path d="M334.300 910.300 L350.200 901.700 M336.700 918.800 L355 917 M377 907.800 L392.900 900.500" style="stroke:#333;stroke-width:2.900"/>
<path d="M314 900 L318 911 M319 904 L324 907.500 M362 905 L365.500 907.500"/>
</g>
<path class="n" d="M324.500 917 L329.500 913.500 M366.500 915 L371.500 911.500"/>
<path class="l" d="M404.800 934.400 L388.400 911.700"/>
<!-- part 15 -->
<g class="o" style="stroke-width:1.500"><path d="M501.100 670.500 L494.700 660.300 L500 654.400 M575.200 637.200 L581.700 644.700 L564.500 656.500 L554.800 659.200"/></g>
<path class="b" d="M500 654.400 L506.500 652.200 L528 649 L545.200 645.800 L559.100 637.200 L561.300 639.300 L547.300 647.900 L528 652.200 L506.500 656.500 Z" style="stroke-width:1.500"/>
<path class="k" style="stroke-width:2.300" d="M506.500 657.600 L530.100 654.400 L549.500 650.100 L566.600 640.400 L575.200 637.200"/>
<path class="l" d="M521.900 628.200 L506.700 651 M562.500 666.300 L544.700 653.600"/>
<!-- part 16 -->
<g class="o" style="stroke-width:1.500"><path d="M385.600 567.500 L392.400 562.700 L397.300 559.300 L401.200 564.600 L398.300 566.600 M385.600 567.500 L385.100 608.500 L388 614.300 L400.200 634.800 L409 630.900"/></g>
<path d="M391 568 L399.200 568 L400.200 582.200 L403.100 598.700 L407.500 620.200 L406.100 624.100 L400.200 625 L395.300 608.500 L391.900 589 Z" fill="#3a3a3a" stroke="#222" stroke-width="1.200" stroke-linejoin="round"/>
<path class="n" style="stroke:#777" d="M395.500 570 L396.500 589 L400 607 L403.500 622"/>
<path class="k" style="stroke-width:1.800" d="M402.200 594.800 L413.900 590"/>
<path class="l" d="M380 537.500 L393.500 561.500 M431.600 607.800 L415.300 624.100"/>
<g class="b"><circle cx="413.900" cy="590" r="2.300"/><circle cx="415.300" cy="624.100" r="1.400"/><ellipse cx="409" cy="629" rx="2.200" ry="2.600"/></g>
<!-- 33_small.svgfrag -->
<!-- 32 fan + arch end -->
<g class="o" style="stroke-width:1.600">
<path d="M670.300 518.700 L687.900 527.500 L698.400 534.500 L712.500 546.800 L721.300 557.300 M676 524.500 L689 532 L699 540.500 L708.500 550.500 L716 559"/>
<path d="M656.200 545 L682.600 529.200 L691.400 536.200 L694.900 546.800 L677.300 552.100 L663.300 557.300 L659.800 550.300 M661.500 550.300 L691.400 539.800 M664 556 L666 561"/>
</g>
<path class="k" style="stroke-width:2.200" d="M698.400 534.500 L705.500 538 L719.500 546.800 L723 555.600 L721.300 560.900 L716 560.900 L712.500 557.300"/>
<path class="k" style="stroke-width:2" d="M656.200 545 L682.600 529.200"/>
<path class="l" d="M694.500 573.800 L700.200 566.100 L697.600 553 M700.200 566.100 L702.800 555.600 M700.200 566.100 L707.200 559.100 M700.200 566.100 L711.600 563.500"/>
<g class="b"><circle cx="697.600" cy="553" r="1.400"/><circle cx="702.800" cy="555.600" r="1.400"/><circle cx="707.200" cy="559.100" r="1.400"/><circle cx="711.600" cy="563.500" r="1.400"/></g>
<!-- 20 cluster -->
<path class="l" d="M727.900 602.800 L699.800 615.100 M727.900 602.800 L710.300 621.300 M690.100 620.400 L703.300 629.200 M690.100 620.400 L699.800 616"/>
<g class="b"><circle cx="690.100" cy="620.400" r="1.800"/><circle cx="699.800" cy="616" r="1.600"/><circle cx="710.300" cy="621.600" r="1.600"/><circle cx="703.300" cy="629.200" r="1.800"/></g>
<!-- 30 / 31 -->
<path class="k" d="M720.900 636.200 L733.200 629.200 L750.700 633.600 L736.700 642.400 Z M752.500 635.300 L760.400 640.600" style="stroke-width:2"/>
<path class="o" d="M727 637 L735 632.500 L745 635 L737 640 Z M727.900 620.400 L729.700 630 M738.400 621.300 L738.400 630 M745.500 624.800 L743.700 631.800 M729.700 642 L729.700 649 M743 640 L747 649.400 M750.700 633.600 L756 630"/>
<path class="l" d="M776.200 616 L727.900 620.400 M776.200 616 L756 630 M776.200 616 L742 621.500 M697.100 661.700 L724.400 640.600"/>
<circle class="b" cx="756" cy="630.300" r="1.200"/>
<!-- 90_text.svgfrag -->
<g style="opacity:.999"><!--TEXTWRAP-->
<text class="c" x="522.1" y="194.3" style="font-size:23.0px" textLength="27.2" lengthAdjust="spacingAndGlyphs">18</text>
<text class="c" x="473.4" y="224.7" style="font-size:24.7px" textLength="29.1" lengthAdjust="spacingAndGlyphs">20</text>
<text class="c" x="639.3" y="96.2" style="font-size:22.9px" textLength="30.4" lengthAdjust="spacingAndGlyphs">42</text>
<text class="c" x="707.3" y="89.2" style="font-size:22.9px" textLength="30.4" lengthAdjust="spacingAndGlyphs">42</text>
<text class="c" x="807.8" y="111.5" style="font-size:23.0px" textLength="15.3" lengthAdjust="spacingAndGlyphs">8</text>
<text class="c" x="655.5" y="252.0" style="font-size:22.9px" textLength="30.8" lengthAdjust="spacingAndGlyphs">37</text>
<text class="c" x="698.0" y="265.0" style="font-size:23.0px" textLength="25.7" lengthAdjust="spacingAndGlyphs">19</text>
<text class="c" x="785.3" y="292.7" style="font-size:23.0px" textLength="24.5" lengthAdjust="spacingAndGlyphs">14</text>
<text class="c" x="825.9" y="326.6" style="font-size:22.9px" textLength="28.6" lengthAdjust="spacingAndGlyphs">40</text>
<text class="c" x="865.7" y="367.0" style="font-size:23.0px" textLength="25.7" lengthAdjust="spacingAndGlyphs">13</text>
<text class="c" x="777.3" y="485.3" style="font-size:24.6px" textLength="31.8" lengthAdjust="spacingAndGlyphs">33</text>
<text class="c" x="855.4" y="470.0" style="font-size:22.8px" textLength="30.9" lengthAdjust="spacingAndGlyphs">43</text>
<text class="c" x="916.5" y="509.1" style="font-size:22.9px" textLength="30.4" lengthAdjust="spacingAndGlyphs">42</text>
<text class="c" x="953.9" y="605.2" style="font-size:22.9px" textLength="16.3" lengthAdjust="spacingAndGlyphs">9</text>
<text class="c" x="918.7" y="666.2" style="font-size:24.6px" textLength="30.6" lengthAdjust="spacingAndGlyphs">34</text>
<text class="c" x="465.3" y="410.6" style="font-size:23.2px" textLength="15.0" lengthAdjust="spacingAndGlyphs">2</text>
<text class="c" x="423.3" y="277.1" style="font-size:23.2px" textLength="8.1" lengthAdjust="spacingAndGlyphs">1</text>
<text class="c" x="588.0" y="607.4" style="font-size:24.7px" textLength="30.9" lengthAdjust="spacingAndGlyphs">36</text>
<text class="c" x="625.4" y="620.0" style="font-size:22.9px" textLength="23.8" lengthAdjust="spacingAndGlyphs">41</text>
<text class="c" x="673.5" y="590.0" style="font-size:23.7px" textLength="31.7" lengthAdjust="spacingAndGlyphs">32</text>
<text class="c" x="718.3" y="596.7" style="font-size:23.3px" textLength="29.1" lengthAdjust="spacingAndGlyphs">20</text>
<text class="c" x="768.1" y="610.7" style="font-size:21.9px" textLength="25.0" lengthAdjust="spacingAndGlyphs">31</text>
<text class="c" x="681.1" y="683.0" style="font-size:22.3px" textLength="28.6" lengthAdjust="spacingAndGlyphs">30</text>
<text class="c" x="514.3" y="626.5" style="font-size:23.0px" textLength="26.8" lengthAdjust="spacingAndGlyphs">19</text>
<text class="c" x="551.2" y="686.7" style="font-size:23.2px" textLength="26.4" lengthAdjust="spacingAndGlyphs">15</text>
<text class="c" x="365.7" y="536.0" style="font-size:25.1px" textLength="30.5" lengthAdjust="spacingAndGlyphs">16</text>
<text class="c" x="422.8" y="605.4" style="font-size:24.9px" textLength="25.5" lengthAdjust="spacingAndGlyphs">19</text>
<text class="c" x="273.5" y="282.2" style="font-size:23.2px" textLength="31.6" lengthAdjust="spacingAndGlyphs">25</text>
<text class="c" x="335.1" y="287.1" style="font-size:24.6px" textLength="30.8" lengthAdjust="spacingAndGlyphs">38</text>
<text class="c" x="224.1" y="294.9" style="font-size:24.6px" textLength="32.4" lengthAdjust="spacingAndGlyphs">26</text>
<text class="c" x="188.6" y="326.2" style="font-size:24.6px" textLength="31.7" lengthAdjust="spacingAndGlyphs">39</text>
<text class="c" x="165.8" y="360.4" style="font-size:23.2px" textLength="30.9" lengthAdjust="spacingAndGlyphs">22</text>
<text class="c" x="123.8" y="418.0" style="font-size:23.7px" textLength="25.4" lengthAdjust="spacingAndGlyphs">21</text>
<text class="c" x="330.2" y="423.8" style="font-size:23.2px" textLength="29.6" lengthAdjust="spacingAndGlyphs">27</text>
<text class="c" x="276.8" y="467.0" style="font-size:23.7px" textLength="29.4" lengthAdjust="spacingAndGlyphs">23</text>
<text class="c" x="40.7" y="698.7" style="font-size:24.9px" textLength="26.6" lengthAdjust="spacingAndGlyphs">12</text>
<text class="c" x="237.6" y="673.3" style="font-size:21.4px" textLength="16.1" lengthAdjust="spacingAndGlyphs">3</text>
<text class="c" x="150.4" y="728.9" style="font-size:23.0px" textLength="15.0" lengthAdjust="spacingAndGlyphs">5</text>
<text class="c" x="243.2" y="882.5" style="font-size:21.2px" textLength="13.5" lengthAdjust="spacingAndGlyphs">4</text>
<text class="c" x="343.8" y="729.2" style="font-size:23.0px" textLength="29.0" lengthAdjust="spacingAndGlyphs">20</text>
<text class="c" x="449.8" y="721.6" style="font-size:23.2px" textLength="29.2" lengthAdjust="spacingAndGlyphs">20</text>
<text class="c" x="515.6" y="727.3" style="font-size:23.0px" textLength="26.4" lengthAdjust="spacingAndGlyphs">18</text>
<text class="c" x="158.2" y="995.7" style="font-size:22.9px" textLength="18.7" lengthAdjust="spacingAndGlyphs">11</text>
<text class="c" x="261.3" y="1020.3" style="font-size:22.9px" textLength="22.2" lengthAdjust="spacingAndGlyphs">10</text>
<text class="c" x="296.5" y="969.9" style="font-size:22.9px" textLength="14.0" lengthAdjust="spacingAndGlyphs">6</text>
<text class="c" x="406.9" y="942.2" style="font-size:22.9px" textLength="14.0" lengthAdjust="spacingAndGlyphs">7</text>
<text class="c" x="726.8" y="707.5" style="font-size:23.0px" textLength="31.6" lengthAdjust="spacingAndGlyphs">28</text>
<text class="c" x="788.9" y="694.6" style="font-size:22.9px" textLength="30.5" lengthAdjust="spacingAndGlyphs">24</text>
<text class="c" x="838.2" y="698.1" style="font-size:22.9px" textLength="30.4" lengthAdjust="spacingAndGlyphs">38</text>
<text class="c" x="870.9" y="749.7" style="font-size:22.9px" textLength="27.0" lengthAdjust="spacingAndGlyphs">18</text>
<text class="c" x="851.1" y="802.4" style="font-size:22.9px" textLength="31.6" lengthAdjust="spacingAndGlyphs">29</text>
<text class="c" x="818.2" y="832.9" style="font-size:24.6px" textLength="31.8" lengthAdjust="spacingAndGlyphs">39</text>
<text class="c" x="671.8" y="748.5" style="font-size:22.9px" textLength="32.8" lengthAdjust="spacingAndGlyphs">23</text>
<text class="c" x="784.3" y="861.0" style="font-size:22.9px" textLength="31.6" lengthAdjust="spacingAndGlyphs">22</text>
<text class="c" x="711.6" y="883.3" style="font-size:22.9px" textLength="25.8" lengthAdjust="spacingAndGlyphs">21</text>
<text class="a" x="481.0" y="25.0" style="font-size:20.9px" textLength="26.1" lengthAdjust="spacingAndGlyphs">47</text>
<text class="a" x="526.3" y="61.0" style="font-size:21.4px" textLength="25.5" lengthAdjust="spacingAndGlyphs">46</text>
<text class="a" x="564.4" y="87.6" style="font-size:21.2px" textLength="26.6" lengthAdjust="spacingAndGlyphs">45</text>
<text class="a" x="869.3" y="253.4" style="font-size:22.1px" textLength="26.8" lengthAdjust="spacingAndGlyphs">45</text>
<text class="a" x="989.7" y="263.1" style="font-size:22.2px" textLength="25.6" lengthAdjust="spacingAndGlyphs">44</text>
<text class="a" x="205.1" y="707.3" style="font-size:21.4px" textLength="25.4" lengthAdjust="spacingAndGlyphs">35</text>
<text class="a" x="470.3" y="860.0" style="font-size:19.6px" textLength="24.3" lengthAdjust="spacingAndGlyphs">35</text>
<text class="a2" x="145.5" y="806.3" style="font-size:19.4px" textLength="32.4" lengthAdjust="spacingAndGlyphs">41A</text>
<text class="a2" x="332.9" y="968.8" style="font-size:19.7px" textLength="32.5" lengthAdjust="spacingAndGlyphs">41B</text>
</g>
</svg>
</body></html>
